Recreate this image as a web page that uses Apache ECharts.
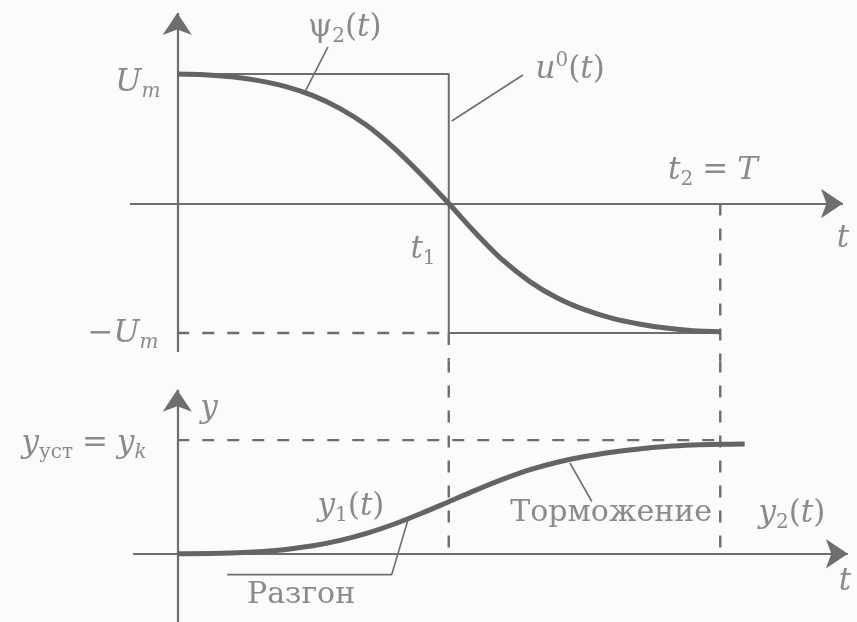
<!DOCTYPE html>
<html>
<head>
<meta charset="utf-8">
<script src="https://cdn.jsdelivr.net/npm/echarts@6/dist/echarts.min.js"></script>
<style>
  html, body { margin: 0; padding: 0; background: #fbfbfb; }
  #chart { width: 857px; height: 622px; }
</style>
</head>
<body>
<div id="chart"></div>
<script>
// Time axis in units where the switching instant t1 = 1 and the final time T = 2.
const t1 = 1;
const T = 2;
const Um = 1;       // control bound U_m
const yk = 1;       // steady-state output y_уст = y_k

// Optimal (bang-bang) control u0(t): +Um until t1, then -Um until T
const uT = [0, t1, t1, T];
const uV = [Um, Um, -Um, -Um];

// Switching function psi2(t)
const psiT = [0, 0.1, 0.2, 0.3, 0.4, 0.5, 0.6, 0.7, 0.8, 0.9, 1.0, 1.1, 1.2, 1.3, 1.4, 1.5, 1.6, 1.7, 1.8, 1.9, 2.0];
const psiV = [1, 0.995, 0.979, 0.949, 0.903, 0.833, 0.733, 0.6, 0.425, 0.22, 0,
              -0.23, -0.44, -0.605, -0.73, -0.82, -0.885, -0.93, -0.962, -0.982, -0.99];

// Output y(t): acceleration y1(t) up to t1, braking y2(t) up to T
const yT = [0, 0.2, 0.35, 0.5, 0.6, 0.7, 0.8, 0.9, 1.0, 1.1, 1.2, 1.3, 1.4, 1.5, 1.6, 1.7, 1.8, 1.9, 2.0, 2.09];
const yV = [0, 0.006, 0.026, 0.071, 0.118, 0.182, 0.262, 0.356, 0.458, 0.56, 0.656, 0.74, 0.805, 0.855, 0.893, 0.922, 0.943, 0.956, 0.963, 0.965];

const zip = (xs, ys) => xs.map((x, i) => [x, ys[i]]);

// ---- layout / style ----
const INK = '#6e6e6e';
const CURVE = '#646464';
const FONT = '"DejaVu Serif", "Liberation Serif", serif';
const X_RANGE = [-0.65, 2.5];
const TOP_Y = [-1.212, 1.5];
const BOT_Y = [-0.6, 1.7];

const rich = {
  i:   { fontFamily: FONT, fontStyle: 'italic', fontSize: 31, color: INK, lineHeight: 38 },
  r:   { fontFamily: FONT, fontSize: 31, color: INK, lineHeight: 38 },
  si:  { fontFamily: FONT, fontStyle: 'italic', fontSize: 20, color: INK, lineHeight: 20, verticalAlign: 'bottom' },
  sr:  { fontFamily: FONT, fontSize: 20, color: INK, lineHeight: 20, verticalAlign: 'bottom' },
  sup: { fontFamily: FONT, fontSize: 20, color: INK, lineHeight: 20, verticalAlign: 'top' },
  c:   { fontFamily: FONT, fontSize: 30, color: INK, lineHeight: 38 },
  sp:  { fontFamily: FONT, fontSize: 31, color: INK, lineHeight: 38, width: 9 }
};

// annotation anchors (axis units)
const topNotes = [
  { at: [0.617, 1.355], txt: '{r|ψ}{sr|2}{r|(}{i|t}{r|)}' },
  { at: [1.447, 1.03],  txt: '{i|u}{sup|0}{r|(}{i|t}{r|)}' },
  { at: [1.973, 0.25],  txt: '{i|t}{sr|2}{sp|}{r|=}{sp|}{i|T}' },
  { at: [2.452, -0.27], txt: '{i|t}' },
  { at: [0.905, -0.36], txt: '{i|t}{sr|1}' },
  { at: [-0.145, 0.93], txt: '{i|U}{si|m}' },
  { at: [-0.2, -1.01],  txt: '{r|−}{i|U}{si|m}' }
];
const botNotes = [
  { at: [0.117, 1.27],  txt: '{i|y}' },
  { at: [-0.343, 0.97], txt: '{i|y}{sr|уст}{sp|}{r|=}{sp|}{i|y}{si|k}' },
  { at: [0.64, 0.41],   txt: '{i|y}{sr|1}{r|(}{i|t}{r|)}' },
  { at: [0.456, -0.36], txt: '{c|Разгон}' },
  { at: [1.598, 0.36],  txt: '{c|Торможение}' },
  { at: [2.264, 0.35],  txt: '{i|y}{sr|2}{r|(}{i|t}{r|)}' },
  { at: [2.459, -0.25], txt: '{i|t}' }
];

// axis extents and leader lines (axis units)
const topAxes = [
  { coords: [[0, -1.147], [0, 1.471]] },
  { coords: [[-0.174, 0], [2.452, 0]] }
];
const botAxes = [
  { coords: [[0, -0.6], [0, 1.443]] },
  { coords: [[-0.163, 0], [2.47, 0]] }
];
const topLeaders = [
  [[0.555, 1.209], [0.47, 0.86]],
  [[1.011, 0.637], [1.273, 0.992]]
];
const botLeaders = [
  [[0.85, 0.3], [0.79, -0.183], [0.184, -0.183]],
  [[1.446, 0.8], [1.527, 0.46]]
];

const thin = (gx, pts, w, dash) => ({
  type: 'line', xAxisIndex: gx, yAxisIndex: gx, data: pts, symbol: 'none',
  silent: true, lineStyle: { color: INK, width: w, type: dash || 'solid' }
});
const dashStyle = [12, 13];

const notes = (gx, list) => ({
  type: 'scatter', xAxisIndex: gx, yAxisIndex: gx, symbolSize: 0, silent: true, clip: false,
  data: list.map(n => ({ value: n.at, txt: n.txt })),
  label: {
    show: true, position: 'inside', align: 'center', verticalAlign: 'middle',
    formatter: p => p.data.txt, rich: rich
  }
});

const axesSeries = (gx, list) => ({
  type: 'lines', coordinateSystem: 'cartesian2d', xAxisIndex: gx, yAxisIndex: gx,
  data: list, symbol: ['none', 'arrow'], symbolSize: [15, 22], silent: true,
  lineStyle: { color: INK, width: 2.2, opacity: 1 }
});

const series = [
  axesSeries(0, topAxes),
  axesSeries(1, botAxes),
  // control u0(t)
  thin(0, zip(uT, uV), 2),
  // guide lines
  thin(0, [[0, -Um], [t1, -Um]], 2.4, dashStyle),
  thin(0, [[t1, -Um], [t1, TOP_Y[0]]], 2.4, dashStyle),
  thin(0, [[T, 0], [T, TOP_Y[0]]], 2.4, dashStyle),
  thin(1, [[t1, BOT_Y[1]], [t1, 0]], 2.4, dashStyle),
  thin(1, [[T, BOT_Y[1]], [T, 0]], 2.4, dashStyle),
  thin(1, [[0, yk], [T, yk]], 2.4, dashStyle),
  // leaders
  ...topLeaders.map(l => thin(0, l, 1.6)),
  ...botLeaders.map(l => thin(1, l, 1.6)),
  // psi2(t)
  {
    type: 'line', xAxisIndex: 0, yAxisIndex: 0, data: zip(psiT, psiV), smooth: 0.3,
    symbol: 'none', silent: true, lineStyle: { color: CURVE, width: 5 }
  },
  // y(t)
  {
    type: 'line', xAxisIndex: 1, yAxisIndex: 1, data: zip(yT, yV), smooth: 0.3,
    symbol: 'none', silent: true, lineStyle: { color: CURVE, width: 5 }
  },
  notes(0, topNotes),
  notes(1, botNotes)
];

const chart = echarts.init(document.getElementById('chart'), null, { renderer: 'canvas' });
chart.setOption({
  backgroundColor: '#fbfbfb',
  animation: false,
  grid: [
    { left: 0.8, width: 855.2, top: 9.25, height: 351.2 },
    { left: 0.8, width: 855.2, top: 360.5, height: 264.5 }
  ],
  xAxis: [
    { type: 'value', gridIndex: 0, min: X_RANGE[0], max: X_RANGE[1], show: false },
    { type: 'value', gridIndex: 1, min: X_RANGE[0], max: X_RANGE[1], show: false }
  ],
  yAxis: [
    { type: 'value', gridIndex: 0, min: TOP_Y[0], max: TOP_Y[1], show: false },
    { type: 'value', gridIndex: 1, min: BOT_Y[0], max: BOT_Y[1], show: false }
  ],
  series: series
});
</script>
</body>
</html>
